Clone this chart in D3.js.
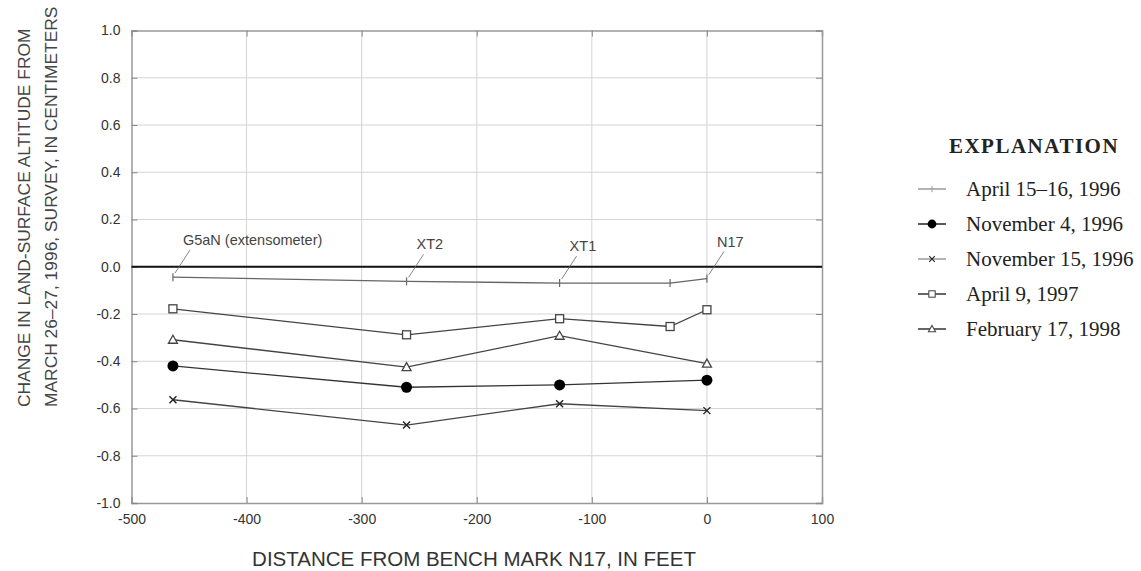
<!DOCTYPE html>
<html>
<head>
<meta charset="utf-8">
<script src="https://cdn.jsdelivr.net/npm/d3@7"></script>
<style>
body { margin: 0; background: #fff; }
svg { display: block; }
</style>
</head>
<body>
<div id="chart"></div>
<script>
// distances from bench mark N17 (feet)
var distances = [-464, -261, -128, -32, 0];

var seriesNames = ["April 15\u201316, 1996", "November 4, 1996", "November 15, 1996", "April 9, 1997", "February 17, 1998"];
// null = not surveyed at that point
var april1996 = [-0.044, -0.062, -0.069, -0.069, -0.050];
var nov4_1996 = [-0.420, -0.510, -0.500, null, -0.480];
var nov15_1996 = [-0.563, -0.670, -0.580, null, -0.609];
var april1997 = [-0.178, -0.288, -0.220, -0.253, -0.182];
var feb1998 = [-0.309, -0.425, -0.292, null, -0.410];

var xTicks = [-500, -400, -300, -200, -100, 0, 100];
var yTicks = [-1.0, -0.8, -0.6, -0.4, -0.2, 0.0, 0.2, 0.4, 0.6, 0.8, 1.0];

var siteLabels = ["G5aN (extensometer)", "XT2", "XT1", "N17"];
var siteDistances = [-464, -261, -128, 0];

var width = 1141, height = 571;
var plotLeft = 131.5, plotRight = 822, plotTop = 30.5, plotBottom = 503;

var svg = d3.select("#chart").append("svg")
	.attr("width", width)
	.attr("height", height);

var x = d3.scaleLinear().domain([-500, 100]).range([plotLeft, plotRight]);
var y = d3.scaleLinear().domain([-1, 1]).range([plotBottom, plotTop]);

// grid
svg.append("g").selectAll("line").data(xTicks.slice(1, -1)).enter().append("line")
	.attr("x1", function(d) { return x(d); }).attr("x2", function(d) { return x(d); })
	.attr("y1", plotTop).attr("y2", plotBottom)
	.attr("stroke", "#d4d4d4").attr("stroke-width", 1);
svg.append("g").selectAll("line").data(yTicks.slice(1, -1)).enter().append("line")
	.attr("x1", plotLeft).attr("x2", plotRight)
	.attr("y1", function(d) { return y(d); }).attr("y2", function(d) { return y(d); })
	.attr("stroke", "#d4d4d4").attr("stroke-width", 1);

// axes (ticks pointing inward)
var fontSans = "'Liberation Sans', Arial, sans-serif";
var fontNarrow = "'Liberation Sans Narrow', 'Liberation Sans', Arial, sans-serif";

var axB = svg.append("g").attr("transform", "translate(0," + plotBottom + ")")
	.call(d3.axisBottom(x).tickValues(xTicks).tickSize(-6).tickPadding(11).tickFormat(function(d) { return String(d); }));
var axT = svg.append("g").attr("transform", "translate(0," + plotTop + ")")
	.call(d3.axisTop(x).tickValues(xTicks).tickSize(-6).tickFormat(""));
var axL = svg.append("g").attr("transform", "translate(" + plotLeft + ",0)")
	.call(d3.axisLeft(y).tickValues(yTicks).tickSize(-6).tickPadding(11).tickFormat(function(d) { return d.toFixed(1); }));
var axR = svg.append("g").attr("transform", "translate(" + plotRight + ",0)")
	.call(d3.axisRight(y).tickValues(yTicks).tickSize(-6).tickFormat(""));

[axB, axT, axL, axR].forEach(function(a) {
	a.select(".domain").attr("stroke", "#999").attr("stroke-width", 1.5);
	a.selectAll(".tick line").attr("stroke", "#888");
	a.selectAll("text").attr("fill", "#333");
});
axB.selectAll("text").style("font-family", fontSans).style("font-size", "14px");
axL.selectAll("text").style("font-family", fontSans).style("font-size", "14px");

// zero line
svg.append("line")
	.attr("x1", plotLeft).attr("x2", plotRight)
	.attr("y1", y(0)).attr("y2", y(0))
	.attr("stroke", "#111").attr("stroke-width", 2);

// series
var seriesValues = [april1996, nov4_1996, nov15_1996, april1997, feb1998];
var seriesColors = ["#666", "#333", "#444", "#444", "#444"];
var legendColors = ["#9a9a9a", "#222", "#9a9a9a", "#333", "#333"];
var seriesShapes = ["plus", "dot", "cross", "square", "triangle"];

var series = seriesNames.map(function(name, i) {
	var pts = [];
	distances.forEach(function(dx, j) {
		if (seriesValues[i][j] != null) pts.push({x: dx, y: seriesValues[i][j]});
	});
	return {name: name, pts: pts, color: seriesColors[i], legendColor: legendColors[i], shape: seriesShapes[i]};
});

var line = d3.line().x(function(d) { return x(d.x); }).y(function(d) { return y(d.y); });

function drawMarker(g, shape, color) {
	if (shape == "plus") {
		g.append("line").attr("x1", 0).attr("x2", 0).attr("y1", -4).attr("y2", 4)
			.attr("stroke", color).attr("stroke-width", 1.2);
	} else if (shape == "dot") {
		g.append("circle").attr("r", 5.5).attr("fill", "#000");
	} else if (shape == "cross") {
		g.append("path").attr("d", "M-3.5,-3.5L3.5,3.5M-3.5,3.5L3.5,-3.5")
			.attr("stroke", "#222").attr("stroke-width", 1.4);
	} else if (shape == "square") {
		g.append("rect").attr("x", -4).attr("y", -4).attr("width", 8).attr("height", 8)
			.attr("fill", "#fff").attr("stroke", "#444").attr("stroke-width", 1.3);
	} else if (shape == "triangle") {
		g.append("path").attr("d", "M0,-4.5L4.5,3.5L-4.5,3.5Z")
			.attr("fill", "#fff").attr("stroke", "#444").attr("stroke-width", 1.3);
	}
}

series.forEach(function(s) {
	svg.append("path").datum(s.pts)
		.attr("d", line)
		.attr("fill", "none")
		.attr("stroke", s.color)
		.attr("stroke-width", 1.3);
	s.pts.forEach(function(p) {
		var g = svg.append("g").attr("transform", "translate(" + x(p.x) + "," + y(p.y) + ")");
		drawMarker(g, s.shape, s.color);
	});
});

// site labels with leader lines
siteLabels.forEach(function(lab, i) {
	var px = x(siteDistances[i]);
	var py = y(april1996[distances.indexOf(siteDistances[i])]);
	svg.append("line")
		.attr("x1", px + 2).attr("y1", py - 4)
		.attr("x2", px + 17).attr("y2", py - 27)
		.attr("stroke", "#666").attr("stroke-width", 0.8);
	svg.append("text")
		.attr("x", px + 10).attr("y", py - 32)
		.style("font-family", fontNarrow)
		.style("font-size", "14.5px")
		.attr("fill", "#444")
		.text(lab);
});

// axis titles
svg.append("text")
	.attr("x", 474).attr("y", 566)
	.attr("text-anchor", "middle")
	.style("font-family", fontNarrow)
	.style("font-size", "20.5px")
	.attr("fill", "#333")
	.text("DISTANCE FROM BENCH MARK N17, IN FEET");

var yTitle = ["CHANGE IN LAND-SURFACE ALTITUDE FROM", "MARCH 26\u201327, 1996, SURVEY, IN CENTIMETERS"];
yTitle.forEach(function(t, i) {
	svg.append("text")
		.attr("transform", "translate(" + (30 + i * 27) + ",407) rotate(-90)")
		.style("font-family", fontSans)
		.style("font-size", "17.4px")
		.attr("fill", "#444")
		.text(t);
});

// legend
var fontSerif = "'Liberation Serif', 'Times New Roman', serif";
svg.append("text")
	.attr("x", 1034).attr("y", 153)
	.attr("text-anchor", "middle")
	.style("font-family", fontSerif)
	.style("font-size", "21px")
	.style("font-weight", "bold")
	.style("letter-spacing", "1.5px")
	.attr("fill", "#222")
	.text("EXPLANATION");

series.forEach(function(s, i) {
	var ly = 189 + i * 35;
	var g = svg.append("g").attr("transform", "translate(932," + ly + ")");
	g.append("line").attr("x1", -14).attr("x2", 14).attr("y1", 0).attr("y2", 0)
		.attr("stroke", s.legendColor).attr("stroke-width", 1.5);
	var m = g.append("g").attr("transform", "scale(0.8)");
	drawMarker(m, s.shape, s.legendColor);
	svg.append("text")
		.attr("x", 966).attr("y", ly + 7)
		.style("font-family", fontSerif)
		.style("font-size", "21px")
		.attr("fill", "#222")
		.text(s.name);
});
</script>
</body>
</html>
